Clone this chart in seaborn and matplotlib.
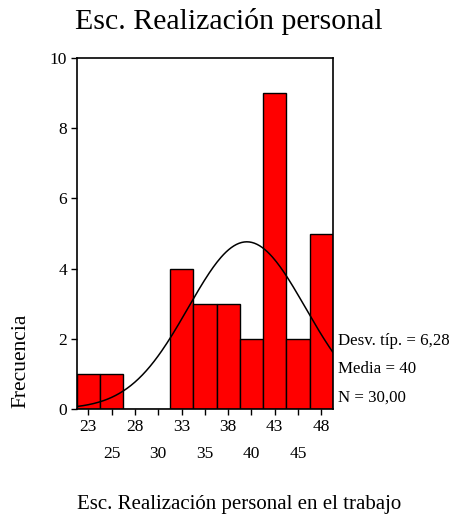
import numpy as np
import pandas as pd
import matplotlib
matplotlib.use('Agg')
import matplotlib.pyplot as plt
import seaborn as sns

# Histogram data (bin centres and frequencies)
bin_centers = [23, 25.5, 28, 30.5, 33, 35.5, 38, 40.5, 43, 45.5, 48]
counts = [1, 1, 0, 0, 4, 3, 3, 2, 9, 2, 5]
major_ticks = [23, 28, 33, 38, 43, 48]
minor_ticks = [25.5, 30.5, 35.5, 40.5, 45.5]
minor_labels = ['25', '30', '35', '40', '45']

# Summary stats shown on the chart
std_dev = 6.28
mean = 40
n_obs = 30
bin_width = 2.5

sns.set_style('white')
plt.rcParams['font.family'] = ['Liberation Serif', 'DejaVu Serif']
plt.rcParams['text.color'] = 'black'
plt.rcParams['xtick.color'] = 'black'
plt.rcParams['ytick.color'] = 'black'
plt.rcParams['axes.labelcolor'] = 'black'

df = pd.DataFrame({'valor': bin_centers, 'freq': counts})
lo = bin_centers[0] - bin_width / 2
hi = bin_centers[-1] + bin_width / 2

fig = plt.figure(figsize=(4.55, 5.19), dpi=100)
ax = fig.add_axes([0.1686, 0.212, 0.5634, 0.676])

sns.histplot(data=df, x='valor', weights='freq', binwidth=bin_width, binrange=(lo, hi),
             color='#ff0000', edgecolor='black', linewidth=1.0, alpha=1, ax=ax)

# fitted normal curve
xs = np.linspace(lo, hi, 200)
ys = n_obs * bin_width / (std_dev * np.sqrt(2 * np.pi)) * np.exp(-0.5 * ((xs - mean) / std_dev) ** 2)
sns.lineplot(x=xs, y=ys, color='black', linewidth=1.1, ax=ax)

ax.set_xlim(lo, hi)
ax.set_ylim(0, 10)
ax.set_yticks([0, 2, 4, 6, 8, 10])
ax.set_xticks(major_ticks)
ax.set_xticklabels([str(t) for t in major_ticks])
ax.set_xticks(minor_ticks, minor=True)
ax.set_xticklabels(minor_labels, minor=True)
ax.tick_params(axis='both', which='both', direction='out', length=4, width=1,
               color='black', labelcolor='black', labelsize=12.5, bottom=True, left=True)
ax.tick_params(axis='y', pad=3)
ax.tick_params(axis='x', which='major', pad=3.5)
ax.tick_params(axis='x', which='minor', pad=22.5)
ax.set_xlabel('')
ax.set_ylabel('')
for sp in ax.spines.values():
    sp.set_color('black')
    sp.set_linewidth(1.2)

fig.text(0.503, 0.958, 'Esc. Realización personal', ha='center', va='center', fontsize=21.5)
fig.text(0.169, 0.027, 'Esc. Realización personal en el trabajo', ha='left', va='center', fontsize=15)
fig.text(0.046, 0.304, 'Frecuencia', rotation=90, ha='center', va='center', fontsize=15.5)

stats_x = 0.742
fig.text(stats_x, 0.343, 'Desv. típ. = ' + f'{std_dev:.2f}'.replace('.', ','),
         ha='left', va='center', fontsize=12.2)
fig.text(stats_x, 0.289, f'Media = {mean}', ha='left', va='center', fontsize=12.2)
fig.text(stats_x, 0.233, 'N = ' + f'{n_obs:.2f}'.replace('.', ','), ha='left', va='center', fontsize=12.2)

fig.savefig('out.png', dpi=100, facecolor='white')
